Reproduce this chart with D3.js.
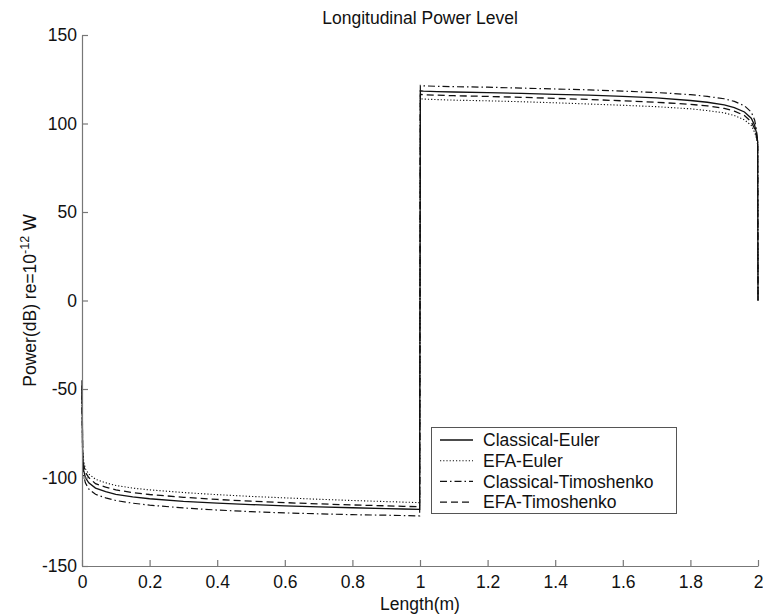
<!DOCTYPE html>
<html><head><meta charset="utf-8">
<script src="https://cdn.jsdelivr.net/npm/d3@7"></script>
<style>
body{margin:0;background:#fff;}
text{font-family:"Liberation Sans",Arial,Helvetica,sans-serif;fill:#111;}
</style></head>
<body><svg id="chart" width="763" height="616"></svg>
<script>
// ---- data ----
const xLeft = [0, 0.002, 0.005, 0.01, 0.02, 0.04, 0.07, 0.1, 0.15, 0.2, 0.3, 0.4, 0.5, 0.6, 0.7, 0.8, 0.9, 0.95, 0.999, 1];
const xRight = [1, 1.001, 1.01, 1.05, 1.1, 1.2, 1.3, 1.4, 1.5, 1.6, 1.7, 1.8, 1.85, 1.9, 1.93, 1.96, 1.98, 1.99, 1.995, 1.999, 2];

const classicalEulerL = [-45, -88, -96, -100, -103, -106, -108, -109.5, -111, -112, -113.5, -114.5, -115.3, -116, -116.6, -117.1, -117.6, -117.8, -118, 0];
const efaEulerL = [-50, -85, -91, -95, -98, -101, -103, -104.5, -106, -107, -108.5, -109.7, -110.7, -111.5, -112.3, -113, -113.6, -113.9, -114.2, 0];
const classicalTimoL = [-52, -92, -99, -103, -106.5, -109.5, -111.5, -113, -114.5, -115.6, -117.2, -118.4, -119.3, -120, -120.5, -121, -121.3, -121.5, -121.7, 0];
const efaTimoL = [-48, -87, -93, -97, -100, -103.5, -105.5, -107, -108.5, -109.6, -111.2, -112.4, -113.4, -114.2, -114.9, -115.5, -116, -116.3, -116.5, 0];

const classicalEulerR = [0, 118.5, 118.3, 118, 117.8, 117.5, 117, 116.5, 116, 115.3, 114.5, 113, 112, 110.5, 109, 106.5, 103, 99, 95, 90, 0];
const efaEulerR = [0, 114, 113.8, 113.5, 113.2, 112.8, 112.3, 111.7, 111, 110.3, 109.5, 108.3, 107.3, 106, 104.5, 102, 99, 95, 92, 88, 0];
const classicalTimoR = [0, 121.5, 121.3, 121, 120.8, 120.5, 120, 119.5, 119, 118.3, 117.5, 116.3, 115.3, 114, 112.5, 110, 106.5, 102, 97, 90, 0];
const efaTimoR = [0, 116.5, 116.3, 116, 115.7, 115.3, 114.8, 114.2, 113.6, 112.8, 112, 110.8, 110, 108.5, 107, 104.5, 101, 97, 93, 89, 0];

const seriesNames = ["Classical-Euler", "EFA-Euler", "Classical-Timoshenko", "EFA-Timoshenko"];
const xTicks = [0, 0.2, 0.4, 0.6, 0.8, 1, 1.2, 1.4, 1.6, 1.8, 2];
const yTicks = [-150, -100, -50, 0, 50, 100, 150];

// ---- layout ----
const svg = d3.select("#chart");
const mLeft = 82, mRight = 758, mTop = 35, mBottom = 566;
const x = d3.scaleLinear().domain([0, 2]).range([mLeft, mRight]);
const y = d3.scaleLinear().domain([-150, 150]).range([mBottom, mTop]);
const dashes = ["none", "1.2,2", "7,3,1.5,3", "7,4"];
const widths = [1.3, 1.1, 1.2, 1.3];
const fs = 17.5;

const seriesData = [
  [classicalEulerL, classicalEulerR],
  [efaEulerL, efaEulerR],
  [classicalTimoL, classicalTimoR],
  [efaTimoL, efaTimoR]
];

const line = d3.line().x(d => x(d[0])).y(d => y(d[1]));
const g = svg.append("g");
seriesData.forEach((s, i) => {
  const pts = xLeft.map((v, k) => [v, s[0][k]]).concat(xRight.map((v, k) => [v, s[1][k]]));
  g.append("path").attr("d", line(pts)).attr("fill", "none")
    .attr("stroke", "#111").attr("stroke-width", widths[i])
    .attr("stroke-dasharray", dashes[i]);
});

// ---- axes ----
const axColor = "#777";
const fmt = d => String(d);
const xAxis = svg.append("g").attr("transform", `translate(0,${mBottom})`)
  .call(d3.axisBottom(x).tickValues(xTicks).tickSizeInner(-6).tickSizeOuter(0).tickPadding(10).tickFormat(fmt));
const yAxis = svg.append("g").attr("transform", `translate(${mLeft},0)`)
  .call(d3.axisLeft(y).tickValues(yTicks).tickSizeInner(-6).tickSizeOuter(0).tickPadding(5).tickFormat(fmt));
[xAxis, yAxis].forEach(a => {
  a.select(".domain").attr("stroke", axColor).attr("stroke-width", 1.2);
  a.selectAll(".tick line").attr("stroke", axColor).attr("stroke-width", 1.2);
  a.selectAll(".tick text").attr("font-size", fs).attr("font-family", "Liberation Sans, Arial, sans-serif").attr("fill", "#111");
});

// ---- titles ----
svg.append("text").attr("x", (mLeft + mRight) / 2).attr("y", 24).attr("text-anchor", "middle")
  .attr("font-size", fs).text("Longitudinal Power Level");
svg.append("text").attr("x", (mLeft + mRight) / 2).attr("y", 610).attr("text-anchor", "middle")
  .attr("font-size", fs).text("Length(m)");
const yl = svg.append("text").attr("transform", `translate(36,${(mTop + mBottom) / 2}) rotate(-90)`)
  .attr("text-anchor", "middle").attr("font-size", fs);
yl.append("tspan").text("Power(dB) re=10");
yl.append("tspan").attr("dy", -7).attr("font-size", fs * 0.72).text("-12");
yl.append("tspan").attr("dy", 7).text(" W");

// ---- legend ----
const lg = svg.append("g");
lg.append("rect").attr("x", 431.5).attr("y", 427.5).attr("width", 245).attr("height", 86)
  .attr("fill", "#fff").attr("stroke", "#555").attr("stroke-width", 1);
seriesNames.forEach((n, i) => {
  const cy = 440 + i * 20.7;
  lg.append("line").attr("x1", 440).attr("x2", 473).attr("y1", cy).attr("y2", cy)
    .attr("stroke", "#111").attr("stroke-width", widths[i]).attr("stroke-dasharray", dashes[i]);
  lg.append("text").attr("x", 483).attr("y", cy).attr("dy", "0.35em").attr("font-size", fs).text(n);
});
</script></body></html>
